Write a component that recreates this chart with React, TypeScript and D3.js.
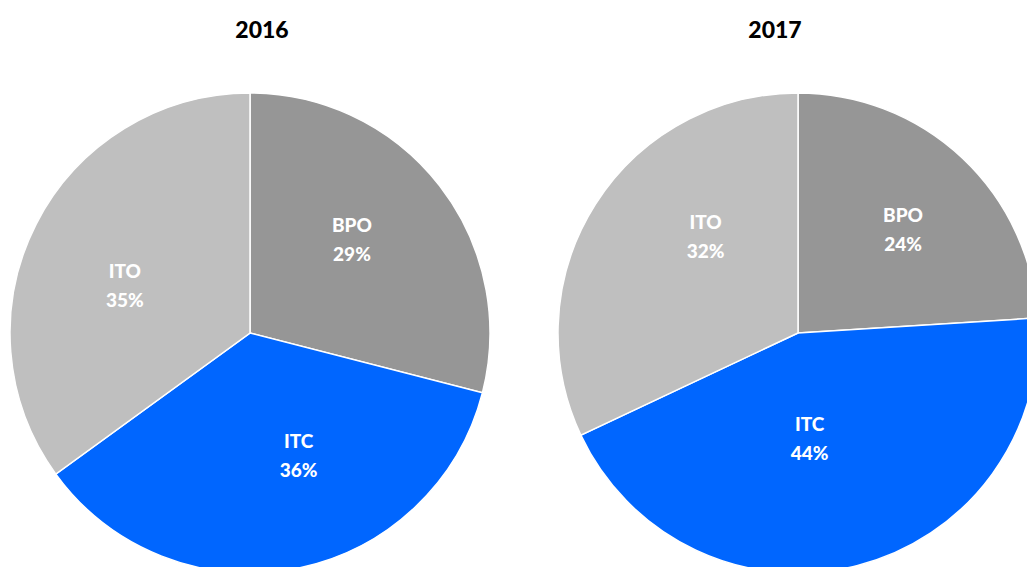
import React from "react";
import * as d3 from "d3";

const categories = ["BPO", "ITC", "ITO"];
const years = ["2016", "2017"];
const values2016 = [29, 36, 35];
const values2017 = [24, 44, 32];
const colors = ["#969696", "#0066FF", "#BFBFBF"];

// layout (not data)
const W = 1027;
const H = 567;
const R = 240;
const charts = [
  { title: years[0], values: values2016, cx: 250, cy: 333, tx: 262, labelR: [139, 131, 134], nudge: [-5, -11, -6] },
  { title: years[1], values: values2017, cx: 798, cy: 333, tx: 775, labelR: [148, 105, 134], nudge: [2, 8, 14] },
];

const font = "Lato, 'Open Sans', sans-serif";

export default function App() {
  const pie = d3.pie<number>().sort(null).value((d) => d);
  const arc = d3.arc<d3.PieArcDatum<number>>().innerRadius(0).outerRadius(R);
  return (
    <svg
      width={W}
      height={H}
      style={{ position: "absolute", left: 0, top: 0, background: "#fff", overflow: "hidden" }}
    >
      {charts.map((c, ci) => {
        const arcs = pie(c.values);
        return (
          <g key={ci}>
            <text
              x={c.tx}
              y={29}
              textAnchor="middle"
              dominantBaseline="central"
              fontFamily={font}
              fontWeight={900}
              fontSize={23}
              fill="#000"
            >
              {c.title}
            </text>
            <g transform={`translate(${c.cx},${c.cy})`}>
              {arcs.map((a, i) => (
                <path key={i} d={arc(a) || ""} fill={colors[i]} stroke="#fff" strokeWidth={1.5} />
              ))}
              {arcs.map((a, i) => {
                const mid = (a.startAngle + a.endAngle) / 2 + (c.nudge[i] * Math.PI) / 180;
                const [lx, ly] = d3
                  .arc<any>()
                  .innerRadius(c.labelR[i])
                  .outerRadius(c.labelR[i])
                  .centroid({ startAngle: mid, endAngle: mid } as any);
                return (
                  <text
                    key={"l" + i}
                    x={lx}
                    y={ly}
                    textAnchor="middle"
                    fontFamily={font}
                    fontWeight={900}
                    fontSize={19}
                    fill="#fff"
                  >
                    <tspan x={lx} y={ly - 14} dominantBaseline="central">
                      {categories[i]}
                    </tspan>
                    <tspan x={lx} y={ly + 15} dominantBaseline="central">
                      {a.data + "%"}
                    </tspan>
                  </text>
                );
              })}
            </g>
          </g>
        );
      })}
    </svg>
  );
}
